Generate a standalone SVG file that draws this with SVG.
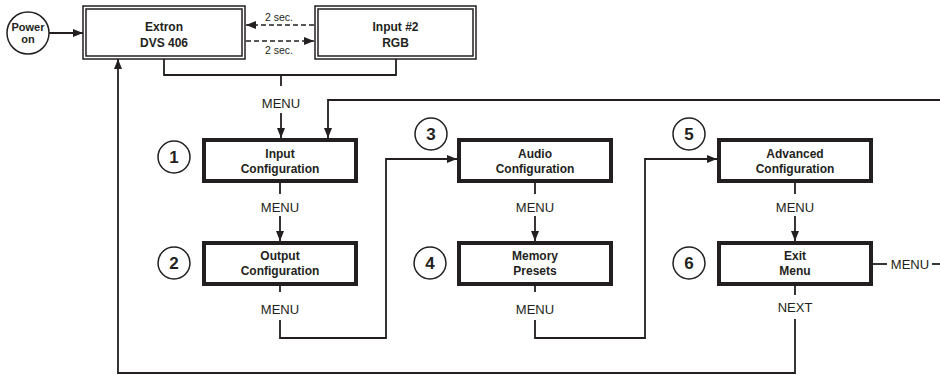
<svg xmlns="http://www.w3.org/2000/svg" width="940" height="375" viewBox="0 0 940 375">
<defs>
<marker id="ah" viewBox="0 0 10 8" refX="10" refY="4" markerWidth="10" markerHeight="8" markerUnits="userSpaceOnUse" orient="auto">
<path d="M0,0 L10,4 L0,8 z" fill="#231f20"/>
</marker>
</defs>
<style>
.bx{fill:#fff;stroke:#231f20;stroke-width:4}
.db{fill:#fff;stroke:#231f20;stroke-width:1.5}
.num{fill:#fff;stroke:#231f20;stroke-width:1.5}
.ln{fill:none;stroke:#231f20;stroke-width:1.8}
.ar{fill:none;stroke:#231f20;stroke-width:1.8;marker-end:url(#ah)}
.da{fill:none;stroke:#231f20;stroke-width:1.6;stroke-dasharray:5,3;marker-end:url(#ah)}
.bt{font-family:"Liberation Sans",Arial,sans-serif;font-weight:bold;font-size:12px;fill:#231f20;text-anchor:middle}
.pt{font-family:"Liberation Sans",Arial,sans-serif;font-weight:bold;font-size:11px;fill:#231f20;text-anchor:middle}
.mt{font-family:"Liberation Sans",Arial,sans-serif;font-size:13px;fill:#231f20;text-anchor:middle}
.st{font-family:"Liberation Sans",Arial,sans-serif;font-size:10.5px;fill:#231f20;text-anchor:middle}
.nt{font-family:"Liberation Sans",Arial,sans-serif;font-weight:bold;font-size:17px;fill:#231f20;text-anchor:middle}
</style>
<rect width="940" height="375" fill="#fff"/>

<g id="connectors">
<line class="ar" x1="49" y1="33" x2="83" y2="33"/>
<line class="da" x1="314" y1="25" x2="246" y2="25"/>
<line class="da" x1="246" y1="41" x2="314" y2="41"/>
<text class="st" x="279" y="21">2 sec.</text>
<text class="st" x="279" y="54">2 sec.</text>
<polyline class="ln" points="164,59 164,75 396,75 396,59"/>
<line class="ln" x1="281" y1="75" x2="281" y2="86"/>
<text class="mt" x="281" y="108">MENU</text>
<line class="ar" x1="281" y1="113" x2="281" y2="138"/>
<polyline class="ar" points="945,100 328,100 328,138"/>

<line class="ln" x1="280" y1="183" x2="280" y2="194"/>
<text class="mt" x="280" y="212">MENU</text>
<line class="ar" x1="280" y1="216" x2="280" y2="241"/>

<line class="ln" x1="280" y1="286" x2="280" y2="292"/>
<text class="mt" x="280" y="314">MENU</text>
<polyline class="ar" points="280,320 280,338 386,338 386,159 457,159"/>

<line class="ln" x1="535" y1="183" x2="535" y2="194"/>
<text class="mt" x="535" y="212">MENU</text>
<line class="ar" x1="535" y1="216" x2="535" y2="241"/>

<line class="ln" x1="535" y1="286" x2="535" y2="292"/>
<text class="mt" x="535" y="314">MENU</text>
<polyline class="ar" points="535,320 535,338 645,338 645,159 717,159"/>

<line class="ln" x1="795" y1="183" x2="795" y2="194"/>
<text class="mt" x="795" y="212">MENU</text>
<line class="ar" x1="795" y1="216" x2="795" y2="241"/>

<line class="ln" x1="873" y1="264" x2="887" y2="264"/>
<text class="mt" x="910" y="269">MENU</text>
<line class="ln" x1="932" y1="264" x2="945" y2="264"/>

<line class="ln" x1="795" y1="286" x2="795" y2="295"/>
<text class="mt" x="795" y="312">NEXT</text>
<polyline class="ar" points="795,319 795,373 118,373 118,59"/>
</g>

<g id="power">
<circle class="num" cx="28" cy="33" r="21"/>
<text class="pt" x="28" y="31">Power</text>
<text class="pt" x="28" y="43">on</text>
</g>

<g id="extron">
<rect class="db" x="83" y="6" width="162" height="53"/>
<rect class="db" x="86" y="9" width="156" height="47"/>
<text class="bt" x="164" y="30.5">Extron</text>
<text class="bt" x="164" y="46.5">DVS 406</text>
</g>

<g id="input2">
<rect class="db" x="315" y="6" width="161" height="53"/>
<rect class="db" x="318" y="9" width="155" height="47"/>
<text class="bt" x="395.5" y="30.5">Input #2</text>
<text class="bt" x="395.5" y="46.5">RGB</text>
</g>

<g id="input-config">
<rect class="bx" x="204" y="140" width="152" height="41"/>
<text class="bt" x="280" y="157.5">Input</text>
<text class="bt" x="280" y="172.5">Configuration</text>
<circle class="num" cx="174" cy="157" r="16"/>
<text class="nt" x="174" y="163">1</text>
</g>

<g id="output-config">
<rect class="bx" x="204" y="243" width="152" height="41"/>
<text class="bt" x="280" y="259.5">Output</text>
<text class="bt" x="280" y="275">Configuration</text>
<circle class="num" cx="174" cy="263" r="16"/>
<text class="nt" x="174" y="269">2</text>
</g>

<g id="audio-config">
<rect class="bx" x="459" y="140" width="152" height="41"/>
<text class="bt" x="535" y="157.5">Audio</text>
<text class="bt" x="535" y="172.5">Configuration</text>
<circle class="num" cx="431" cy="134" r="16"/>
<text class="nt" x="431" y="140">3</text>
</g>

<g id="memory-presets">
<rect class="bx" x="459" y="243" width="152" height="41"/>
<text class="bt" x="535" y="259.5">Memory</text>
<text class="bt" x="535" y="275">Presets</text>
<circle class="num" cx="430" cy="263" r="16"/>
<text class="nt" x="430" y="269">4</text>
</g>

<g id="advanced-config">
<rect class="bx" x="719" y="140" width="152" height="41"/>
<text class="bt" x="795" y="157.5">Advanced</text>
<text class="bt" x="795" y="172.5">Configuration</text>
<circle class="num" cx="689" cy="134" r="16"/>
<text class="nt" x="689" y="140">5</text>
</g>

<g id="exit-menu">
<rect class="bx" x="719" y="243" width="152" height="41"/>
<text class="bt" x="795" y="259.5">Exit</text>
<text class="bt" x="795" y="275">Menu</text>
<circle class="num" cx="689" cy="263" r="16"/>
<text class="nt" x="689" y="269">6</text>
</g>
</svg>
